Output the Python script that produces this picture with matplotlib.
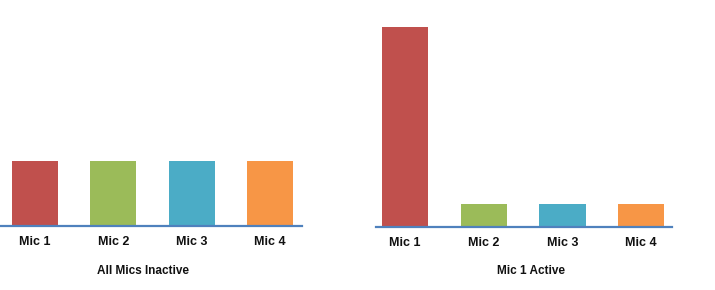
import matplotlib.pyplot as plt

mics = ["Mic 1", "Mic 2", "Mic 3", "Mic 4"]
inactive = [65, 65, 65, 65]
active = [200, 23, 23, 23]
colors = ["#c0504d", "#9bbb59", "#4bacc6", "#f79646"]

plt.rcParams['font.family'] = ['Liberation Sans', 'DejaVu Sans']

W, H = 715, 290
fig = plt.figure(figsize=(W / 100, H / 100), dpi=100)

def panel(left_px, right_px, base_px, xlim, vals, title, title_x):
    ax = fig.add_axes([left_px / W, (H - base_px) / H,
                       (right_px - left_px) / W, 200 / H])
    ax.bar(range(len(mics)), vals, width=0.586, color=colors)
    ax.set_xlim(*xlim)
    ax.set_ylim(0, 200)
    ax.set_xticks(range(len(mics)))
    ax.set_xticklabels(mics, fontweight='bold', fontsize=9, color='#111111')
    ax.tick_params(axis='x', length=0, pad=7.5)
    ax.set_yticks([])
    for s in ['top', 'left', 'right']:
        ax.spines[s].set_visible(False)
    ax.spines['bottom'].set_color('#4f81bd')
    ax.spines['bottom'].set_linewidth(1.6)
    fig.text(title_x / W, (H - 271) / H, title, ha='center', va='center',
             fontsize=8.5, fontweight='bold', color='#111111')
    return ax

panel(0, 302, 226, (-0.447, 3.41), inactive, "All Mics Inactive", 143)
panel(376, 672, 227, (-0.369, 3.39), active, "Mic 1 Active", 531)

fig.savefig("out.png", dpi=100)
